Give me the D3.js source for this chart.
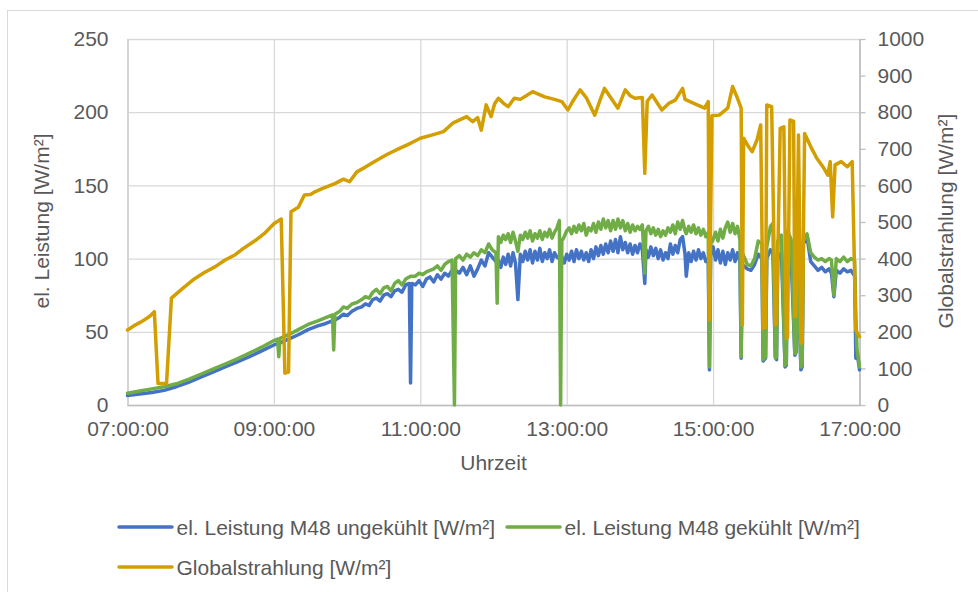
<!DOCTYPE html>
<html>
<head>
<meta charset="utf-8">
<script src="https://cdn.jsdelivr.net/npm/d3@7"></script>
<style>
  body { margin: 0; background: #fff; }
  text { font-family: "Liberation Sans", Arial, sans-serif; fill: #595959; }
</style>
</head>
<body>
<svg id="chart" width="978" height="592"></svg>
<script>
// data
const powerTimes = [
  '07:00', '07:10', '07:20', '07:30', '07:40', '07:50',
  '08:00', '08:10', '08:20', '08:30', '08:40', '08:50',
  '09:00', '09:03', '09:04', '09:05', '09:12', '09:20', '09:28', '09:36', '09:42', '09:48', '09:49', '09:50', '09:54', '09:57',
  '10:00', '10:04', '10:08', '10:12', '10:15', '10:18', '10:21', '10:24', '10:27', '10:30', '10:33', '10:36', '10:39', '10:42', '10:45', '10:48', '10:51', '10:52', '10:53', '10:56', '10:59',
  '11:02', '11:05', '11:08', '11:11', '11:14', '11:17', '11:20', '11:23', '11:26', '11:28', '11:29', '11:32', '11:35', '11:38', '11:41', '11:44', '11:47', '11:50', '11:53', '11:56', '11:59',
  '12:02', '12:03', '12:04', '12:06', '12:08', '12:10', '12:12', '12:14', '12:16', '12:18', '12:20', '12:22', '12:24', '12:26', '12:28', '12:30', '12:32', '12:34', '12:36', '12:38', '12:40', '12:42', '12:44', '12:46', '12:48', '12:50', '12:52', '12:54', '12:55', '12:56', '12:58',
  '13:00', '13:02', '13:04', '13:06', '13:08', '13:10', '13:12', '13:14', '13:16', '13:18', '13:20', '13:22', '13:24', '13:26', '13:28', '13:30', '13:32', '13:34', '13:36', '13:38', '13:40', '13:42', '13:44', '13:46', '13:48', '13:50', '13:52', '13:54', '13:56', '13:58',
  '14:00', '14:02', '14:04', '14:05', '14:07', '14:09', '14:11', '14:13', '14:15', '14:17', '14:19', '14:21', '14:23', '14:25', '14:27', '14:29', '14:31', '14:33', '14:35', '14:37', '14:38', '14:40', '14:42', '14:44', '14:46', '14:48', '14:50', '14:52', '14:54', '14:56', '14:57', '14:58',
  '15:00', '15:02', '15:04', '15:06', '15:08', '15:10', '15:12', '15:14', '15:16', '15:18', '15:20', '15:22', '15:23', '15:24', '15:28', '15:31', '15:34', '15:37', '15:40', '15:41', '15:43', '15:44', '15:47', '15:49', '15:51', '15:52', '15:53', '15:56', '15:59',
  '16:00', '16:01', '16:04', '16:07', '16:08', '16:09', '16:12', '16:13', '16:14', '16:17', '16:20', '16:23', '16:26', '16:29', '16:32', '16:35', '16:37', '16:39', '16:41', '16:44', '16:47', '16:50', '16:53', '16:56', '16:57', '16:58',
  '17:00'
]
const leistungUngekuehlt = [
  6.5, 7.5, 8.5, 10, 12.5, 15.5,
  19, 22.5, 26, 29.5, 33, 37,
  41, 42, 42, 42.5, 45, 48, 51.5, 54, 55.5, 57.5, 57.5, 58, 60, 62,
  61, 64, 66, 67, 69, 68, 72, 73, 71, 75, 76, 74, 78, 79, 77, 82, 83, 15, 83, 82, 85,
  81, 86, 87.5, 84, 89, 86, 90, 88, 92, 92, 92, 90, 94, 89, 95, 88, 93, 99, 95, 104, 101,
  98, 98, 99, 94, 101, 96, 103, 95, 104, 97, 72, 103, 98, 105, 99, 106, 97, 105, 99, 107, 98, 104, 100, 106, 98, 104, 101, 100, 104, 101, 97,
  103, 99, 105, 98, 106, 100, 105, 99, 104, 98, 106, 100, 108, 102, 109, 103, 110, 104, 112, 105, 113, 104, 115, 106, 111, 104, 110, 103, 109, 104,
  110, 106, 83, 106, 101, 108, 102, 107, 100, 106, 99, 104, 100, 110, 103, 109, 104, 113, 115, 103, 88, 104, 98, 105, 99, 106, 100, 104, 98, 100, 24, 102,
  108, 99, 106, 97, 105, 96, 104, 99, 106, 98, 104, 98, 32, 96, 93, 92, 96, 103, 100, 30, 32, 100, 106, 104, 33, 31, 100, 104, 26,
  27, 106, 100, 34, 36, 104, 24, 26, 110, 115, 98, 95, 92, 94, 91, 93, 90, 74, 92, 90, 93, 91, 92, 88, 32, 36,
  24
]
const leistungGekuehlt = [
  8, 9.5, 11, 12.5, 14.5, 17.5,
  21, 24.5, 28, 31.5, 35.5, 39.5,
  44, 45, 33, 45.5, 48, 51.5, 55, 57.5, 59.5, 61.5, 37.6, 62, 64, 67,
  66, 69, 70, 72, 74, 73, 77, 79, 76, 80, 81, 78, 83, 85, 82, 86, 87.5, 88, 88, 88, 90,
  89, 91, 92, 93, 95, 92, 96, 98, 99, 0, 100, 102, 99, 103, 101, 104, 102, 106, 104, 110, 106,
  104, 69.5, 115, 111, 116, 113, 117, 111, 118, 112, 105, 116, 113, 118, 114, 119, 112, 117, 114, 119, 113, 118, 115, 120, 114, 118, 121, 126, 0, 112, 115,
  119, 121, 117, 122, 118, 123, 119, 124, 116, 121, 119, 124, 118, 125, 120, 127, 121, 126, 119, 126, 120, 127, 121, 126, 119, 124, 118, 123, 119, 122,
  120, 123, 90, 119, 122, 117, 121, 116, 120, 115, 119, 116, 121, 118, 123, 117, 125, 120, 126, 119, 117, 122, 118, 123, 117, 121, 116, 120, 115, 118, 26, 110,
  113, 118, 112, 120, 114, 121, 125, 118, 124, 117, 122, 113, 33, 104, 96, 95, 100, 112, 110, 31, 33, 108, 122, 124, 32, 33, 112, 116, 27,
  28, 119, 113, 35, 37, 110, 26, 28, 112, 117, 104, 101, 99, 100, 98, 100, 99, 75, 100, 98, 101, 98, 100, 99, 60, 38,
  26
]
const globalTimes = [
  '07:00', '07:06', '07:10', '07:14', '07:18', '07:22', '07:25', '07:32', '07:36', '07:45', '07:55',
  '08:03', '08:12', '08:20', '08:28', '08:35', '08:45', '08:52',
  '09:00', '09:06', '09:09', '09:12', '09:14', '09:20', '09:25', '09:30', '09:34', '09:40', '09:50', '09:57',
  '10:02', '10:08', '10:15', '10:24', '10:33', '10:43', '10:52',
  '11:00', '11:10', '11:19', '11:27', '11:38', '11:43', '11:47', '11:50', '11:54', '11:58',
  '12:01', '12:04', '12:08', '12:12', '12:17', '12:22', '12:32', '12:42', '12:50', '12:56',
  '13:01', '13:05', '13:11', '13:16', '13:23', '13:27', '13:31', '13:36', '13:42', '13:48', '13:52', '13:56',
  '14:02', '14:04', '14:06', '14:10', '14:18', '14:24', '14:29', '14:35', '14:37', '14:41', '14:47', '14:53', '14:56', '14:57', '14:59',
  '15:05', '15:12', '15:16', '15:20', '15:23', '15:24', '15:25', '15:29', '15:32', '15:36', '15:39', '15:41', '15:43', '15:44', '15:48', '15:51', '15:52', '15:55', '15:58',
  '16:00', '16:01', '16:03', '16:06', '16:07', '16:08', '16:10', '16:12', '16:13', '16:15', '16:20', '16:25', '16:30', '16:34', '16:36', '16:38', '16:40', '16:45', '16:50', '16:54', '16:57',
  '17:00'
]
const globalstrahlung = [
  205, 218, 225, 233, 242, 255, 59, 59, 292, 318, 345,
  362, 378, 396, 410, 428, 450, 468,
  495, 508, 87, 90, 528, 540, 574, 575, 583, 592, 605, 617,
  610, 637, 650, 668, 685, 701, 715,
  729, 738, 747, 771, 788, 774, 785, 751, 820, 788,
  824, 838, 825, 815, 838, 835, 856, 842, 835, 829,
  806, 830, 861, 840, 792, 830, 865, 840, 811, 861, 845, 838,
  840, 633, 830, 847, 806, 825, 833, 865, 835, 829, 820, 811, 829, 232, 790,
  792, 811, 870, 838, 811, 219, 729, 706, 692, 724, 765, 210, 212, 820, 815, 219, 222, 756, 760,
  182, 185, 779, 775, 241, 244, 738, 169, 172, 742, 706, 674, 651, 628, 665, 514, 656, 665, 651, 665, 205,
  187
]
const xTickLabels = ['07:00', '09:00', '11:00', '13:00', '15:00', '17:00']
const leftTicks = [0, 50, 100, 150, 200, 250]
const rightTicks = [0, 100, 200, 300, 400, 500, 600, 700, 800, 900, 1000]
const seriesNames = ['el. Leistung M48 ungekühlt [W/m²]', 'el. Leistung M48 gekühlt [W/m²]', 'Globalstrahlung [W/m²]']
const seriesColors = ['#4472C4', '#70AD47', '#D29E00']

const parseTime = d3.timeParse('%H:%M')
const powerUng = powerTimes.map((t, i) => ({ t: parseTime(t), v: leistungUngekuehlt[i] }))
const powerGek = powerTimes.map((t, i) => ({ t: parseTime(t), v: leistungGekuehlt[i] }))
const globalData = globalTimes.map((t, i) => ({ t: parseTime(t), v: globalstrahlung[i] }))

const svg = d3.select('#chart')
const fontSize = '21px'

// chart border
svg.append('rect')
  .attr('x', 7.5).attr('y', 10.5)
  .attr('width', 1000).attr('height', 700)
  .attr('fill', 'none').attr('stroke', '#D9D9D9').attr('stroke-width', 1)

// scales
const x = d3.scaleTime()
  .domain([parseTime('07:00'), parseTime('17:00')])
  .range([127.5, 859.5])
const yLeft = d3.scaleLinear().domain([0, 250]).range([405, 39])
const yRight = d3.scaleLinear().domain([0, 1000]).range([405, 39])

// horizontal gridlines (left axis)
const gLeft = svg.append('g')
  .attr('transform', 'translate(127.5,0)')
  .call(d3.axisLeft(yLeft).tickValues(leftTicks).tickSize(-732).tickPadding(19))
gLeft.select('.domain').remove()
gLeft.selectAll('line').attr('stroke', '#D9D9D9').attr('stroke-width', 1.3)
gLeft.selectAll('text').style('font-size', fontSize).attr('fill', '#595959')

// vertical gridlines (time axis)
const gBottom = svg.append('g')
  .attr('transform', 'translate(0,405)')
  .call(d3.axisBottom(x)
    .tickValues(xTickLabels.map(parseTime))
    .tickSize(-366)
    .tickPadding(16)
    .tickFormat(d3.timeFormat('%H:%M:%S')))
gBottom.select('.domain').attr('stroke', '#BFBFBF').attr('stroke-width', 1.5)
gBottom.selectAll('line').attr('stroke', '#D9D9D9').attr('stroke-width', 1.3)
gBottom.selectAll('text').style('font-size', fontSize).attr('fill', '#595959')

// right axis
const gRight = svg.append('g')
  .attr('transform', 'translate(859.5,0)')
  .call(d3.axisRight(yRight).tickValues(rightTicks).tickFormat(d3.format('d'))
    .tickSize(6).tickPadding(12).tickSizeOuter(0))
gRight.select('.domain').attr('stroke', '#BFBFBF').attr('stroke-width', 1.5)
gRight.selectAll('line').attr('stroke', '#BFBFBF').attr('stroke-width', 1.3)
gRight.selectAll('text').style('font-size', fontSize).attr('fill', '#595959')

// lines
const linePower = d3.line().x(d => x(d.t)).y(d => yLeft(d.v))
const lineGlobal = d3.line().x(d => x(d.t)).y(d => yRight(d.v))

const drawLine = (data, gen, color) => {
  svg.append('path')
    .datum(data)
    .attr('d', gen)
    .attr('fill', 'none')
    .attr('stroke', color)
    .attr('stroke-width', 3.5)
    .attr('stroke-linejoin', 'round')
    .attr('stroke-linecap', 'round')
}
drawLine(powerUng, linePower, seriesColors[0])
drawLine(powerGek, linePower, seriesColors[1])
drawLine(globalData, lineGlobal, seriesColors[2])

// axis titles
svg.append('text')
  .attr('transform', 'translate(49,221)rotate(-90)')
  .attr('text-anchor', 'middle')
  .style('font-size', fontSize)
  .text('el. Leistung [W/m²]')

svg.append('text')
  .attr('transform', 'translate(953,221)rotate(-90)')
  .attr('text-anchor', 'middle')
  .style('font-size', fontSize)
  .text('Globalstrahlung [W/m²]')

svg.append('text')
  .attr('x', 493.5).attr('y', 470)
  .attr('text-anchor', 'middle')
  .style('font-size', fontSize)
  .text('Uhrzeit')

// legend
const legendPos = [[119, 527], [507, 527], [119, 567]]
seriesNames.forEach((name, i) => {
  const [lx, ly] = legendPos[i]
  svg.append('line')
    .attr('x1', lx).attr('x2', lx + 53)
    .attr('y1', ly).attr('y2', ly)
    .attr('stroke', seriesColors[i]).attr('stroke-width', 3.5)
    .attr('stroke-linecap', 'round')
  svg.append('text')
    .attr('x', lx + 57.5).attr('y', ly + 7.5)
    .style('font-size', fontSize)
    .text(name)
})
</script>
</body>
</html>
